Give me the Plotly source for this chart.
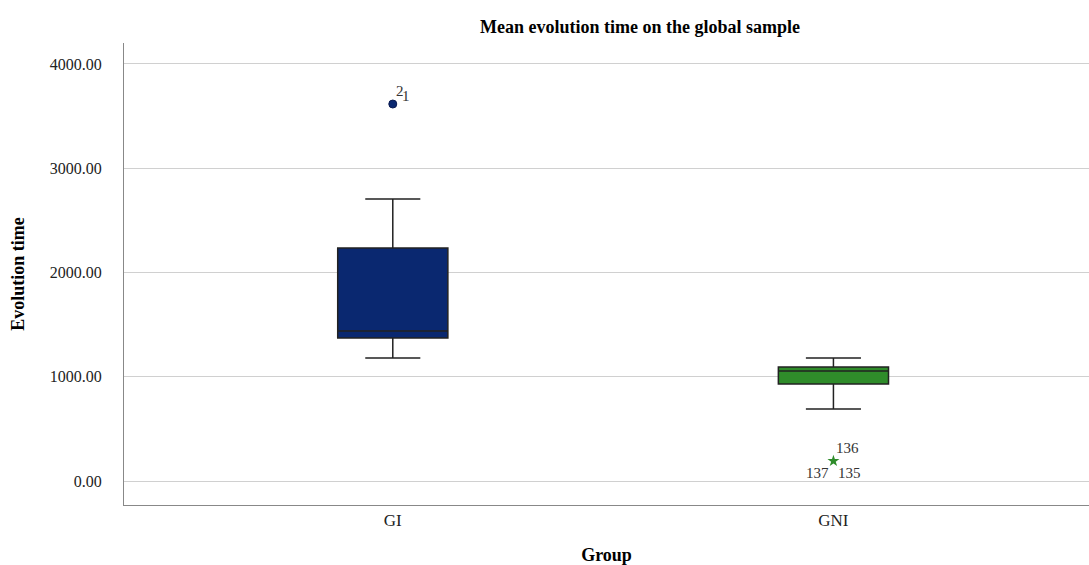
import plotly.graph_objects as go

groups = ["GI", "GNI"]
q1 = [1372, 930]
median = [1439, 1055]
q3 = [2235, 1094]
lower = [1180, 690]
upper = [2705, 1180]
fills = ["#0a2870", "#2f8c2a"]

outlier_group = ["GI"]
outlier_val = [3616]
extreme_group = ["GNI"]
extreme_val = [192]

y_ticks = [0, 1000, 2000, 3000, 4000]

FONT = "Liberation Serif, Times New Roman, serif"

fig = go.Figure()
for i, g in enumerate(groups):
    fig.add_trace(go.Box(
        x=[g], q1=[q1[i]], median=[median[i]], q3=[q3[i]],
        lowerfence=[lower[i]], upperfence=[upper[i]],
        fillcolor=fills[i], line=dict(color="#222222", width=1.5),
        width=0.25, whiskerwidth=0.5, boxpoints=False,
        hoverinfo="skip", showlegend=False,
    ))

fig.add_trace(go.Scatter(
    x=outlier_group, y=outlier_val, mode="markers",
    marker=dict(symbol="circle", size=8, color="#0a2870",
                line=dict(color="#0a1a50", width=1)),
    showlegend=False, hoverinfo="skip"))
fig.add_trace(go.Scatter(
    x=extreme_group, y=extreme_val, mode="markers",
    marker=dict(symbol="star", size=9, color="#2f8c2a"),
    showlegend=False, hoverinfo="skip"))

lab_font = dict(family=FONT, size=15, color="#333333")
ann = [
    dict(x="GI", y=outlier_val[0], text="2", xanchor="left", yanchor="middle", xshift=1, yshift=13),
    dict(x="GI", y=outlier_val[0], text="1", xanchor="left", yanchor="middle", xshift=7, yshift=8),
    dict(x="GNI", y=extreme_val[0], text="136", xanchor="left", yanchor="middle", xshift=1, yshift=13),
    dict(x="GNI", y=extreme_val[0], text="137", xanchor="right", yanchor="middle", xshift=-2, yshift=-12),
    dict(x="GNI", y=extreme_val[0], text="135", xanchor="left", yanchor="middle", xshift=3, yshift=-12),
]
for a in ann:
    fig.add_annotation(xref="x", yref="y", showarrow=False, font=lab_font, **a)

fig.add_annotation(xref="paper", yref="paper", x=(640 - 124) / 965, y=1, yshift=16,
                   text="<b>Mean evolution time on the global sample</b>",
                   showarrow=False, xanchor="center", yanchor="middle",
                   font=dict(family=FONT, size=18, color="#000000"))

fig.update_layout(
    width=1089, height=565,
    margin=dict(l=124, r=0, t=43, b=60),
    paper_bgcolor="white", plot_bgcolor="white",
    font=dict(family=FONT, size=14, color="#222222"),
    xaxis=dict(
        range=[-0.61, 1.58], showline=True, linecolor="#888888", linewidth=1,
        showgrid=False, ticks="", tickfont=dict(family=FONT, size=17, color="#222222"),
        title=dict(text="<b>Group</b>", font=dict(family=FONT, size=18, color="#000000"), standoff=20),
    ),
    yaxis=dict(
        range=[-230, 4201], tickvals=y_ticks, tickformat=".2f",
        showline=True, linecolor="#888888", linewidth=1,
        showgrid=True, gridcolor="#d0d0d0", gridwidth=1, zeroline=False,
        ticks="", ticklabelstandoff=18,
        tickfont=dict(family=FONT, size=16, color="#222222"),
        title=dict(text="<b>Evolution time</b>", font=dict(family=FONT, size=18, color="#000000"), standoff=20),
    ),
)

fig.write_html("out.html")
